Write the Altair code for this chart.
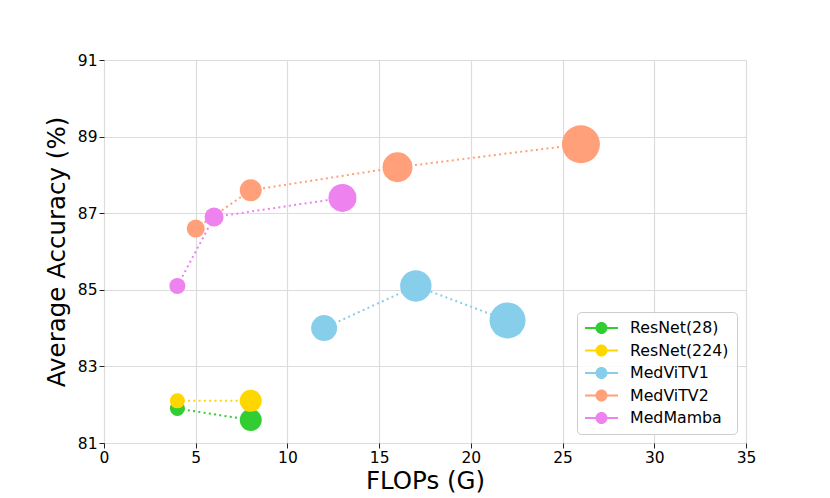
import altair as alt
import pandas as pd

series = ["ResNet(28)", "ResNet(224)", "MedViTV1", "MedViTV2", "MedMamba"]
colors = ["#32CD32", "#FFD700", "#87CEEB", "#FFA07A", "#EE82EE"]

resnet28_flops = [4, 8]
resnet28_acc = [81.9, 81.6]
resnet224_flops = [4, 8]
resnet224_acc = [82.1, 82.1]
medvitv1_flops = [12, 17, 22]
medvitv1_acc = [84.0, 85.1, 84.2]
medvitv2_flops = [5, 8, 16, 26]
medvitv2_acc = [86.6, 87.6, 88.2, 88.8]
medmamba_flops = [4, 6, 13]
medmamba_acc = [85.1, 86.9, 87.4]

# marker sizes (Vega symbol size = diameter^2)
resnet28_size = [225, 484]
resnet224_size = [225, 484]
medvitv1_size = [676, 986, 1296]
medvitv2_size = [324, 484, 900, 1444]
medmamba_size = [256, 361, 784]

x_ticks = [0, 5, 10, 15, 20, 25, 30, 35]
y_ticks = [81, 83, 85, 87, 89, 91]

rows = []
for name, xs, ys, ss in [
    (series[0], resnet28_flops, resnet28_acc, resnet28_size),
    (series[1], resnet224_flops, resnet224_acc, resnet224_size),
    (series[2], medvitv1_flops, medvitv1_acc, medvitv1_size),
    (series[3], medvitv2_flops, medvitv2_acc, medvitv2_size),
    (series[4], medmamba_flops, medmamba_acc, medmamba_size),
]:
    for i, (x, y, s) in enumerate(zip(xs, ys, ss)):
        rows.append({"model": name, "flops": x, "acc": y, "size": s,
                     "order": series.index(name) * 10 + i})
df = pd.DataFrame(rows)

FONT = "DejaVu Sans"

xenc = alt.X("flops:Q", title="FLOPs (G)",
             scale=alt.Scale(domain=[0, 35], nice=False, zero=False),
             axis=alt.Axis(values=x_ticks, format="d", labelFlush=False))
yenc = alt.Y("acc:Q", title="Average Accuracy (%)",
             scale=alt.Scale(domain=[81, 91], nice=False, zero=False),
             axis=alt.Axis(values=y_ticks, format="d", labelFlush=False))
color_scale = alt.Scale(domain=series, range=colors)

legend_path = ("M-1,-0.14 L3.125,-0.14 L3.125,0.14 L-1,0.14 Z "
               "M0.31,0 A0.75,0.75 0 1,1 1.81,0 A0.75,0.75 0 1,1 0.31,0 Z")

legend = alt.Legend(title=None, orient="bottom-right", offset=9,
                    symbolType=legend_path, symbolSize=256,
                    symbolStrokeWidth=0, symbolOpacity=1,
                    labelFontSize=15.8, labelFont=FONT,
                    labelOffset=29, rowPadding=6.5,
                    padding=8, strokeColor="#cccccc",
                    fillColor="rgba(255,255,255,0.85)",
                    cornerRadius=4)

color_enc = alt.Color("model:N", scale=color_scale, sort=series, legend=legend)

lines = alt.Chart(df).mark_line(strokeWidth=2, strokeDash=[2, 3.3]).encode(
    x=xenc, y=yenc,
    color=color_enc,
    order="order:Q",
)

points = alt.Chart(df).mark_point(filled=True, shape="circle", opacity=1, strokeWidth=0).encode(
    x=xenc, y=yenc,
    color=color_enc,
    size=alt.Size("size:Q", scale=None, legend=None),
    order="order:Q",
)

chart = alt.layer(lines, points).properties(
    width=642, height=383,
    autosize=alt.AutoSizeParams(type="none"),
    padding={"left": 96, "top": 52, "right": 76, "bottom": 55},
).configure_view(stroke=None).configure_axis(
    labelFont=FONT, titleFont=FONT, labelFontSize=15.5, titleFontSize=24.5,
    titleFontWeight="normal", labelColor="black", titleColor="black",
    grid=True, gridColor="#dcdcdc", gridWidth=1.2, domain=False,
    tickColor="#222222", tickSize=5, tickWidth=1, labelPadding=2,
).configure_axisY(titlePadding=8).configure_axisX(titlePadding=4)

chart.save("out.html", embed_options={"renderer": "svg", "actions": False})
